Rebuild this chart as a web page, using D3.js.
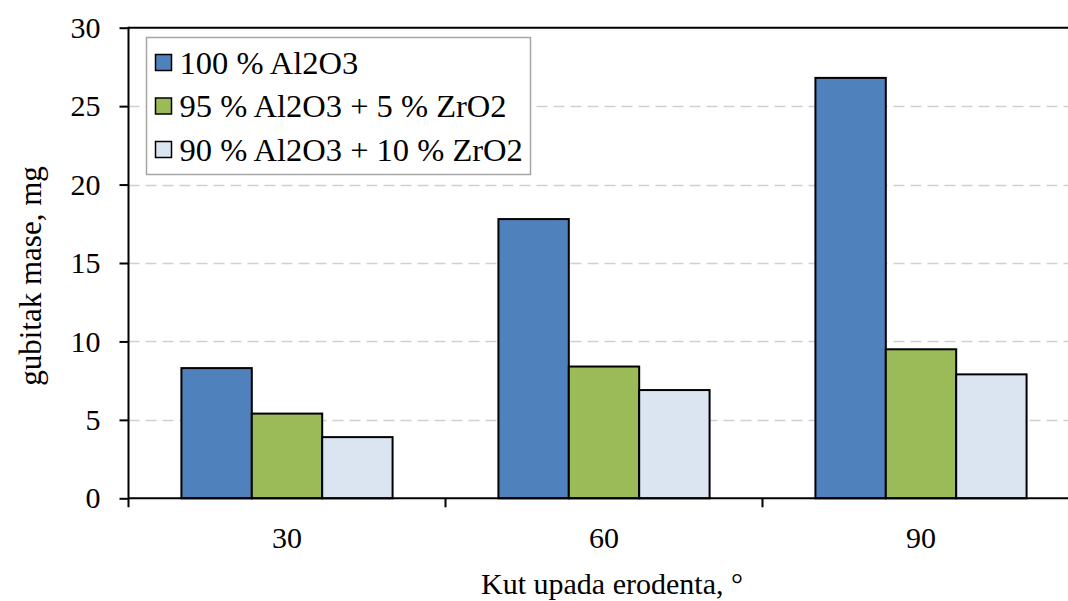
<!DOCTYPE html>
<html>
<head>
<meta charset="utf-8">
<script src="https://cdn.jsdelivr.net/npm/d3@7"></script>
<style>
    body { margin: 0; background: #fff; }
    svg { display: block; font-family: "Liberation Serif", "Times New Roman", serif; }
</style>
</head>
<body>
<svg></svg>
<script>
// Data.
var categories = ['30', '60', '90'];
var seriesNames = ['100 % Al2O3', '95 % Al2O3 + 5 % ZrO2', '90 % Al2O3 + 10 % ZrO2'];
var seriesColors = ['#4f81bd', '#9bbb59', '#dbe5f1'];
var values100 = [8.3, 17.8, 26.8];
var values95 = [5.4, 8.4, 9.5];
var values90 = [3.9, 6.9, 7.9];
var yTicks = [0, 5, 10, 15, 20, 25, 30];

var seriesValues = [values100, values95, values90];

var width = 1068;
var height = 601;

var svg = d3.select('svg')
    .attr('width', width)
    .attr('height', height)
;

// Plot area (the right edge runs past the picture, as in the reference).
var plotLeft = 128.5;
var plotRight = 1079.5;
var plotTop = 27.7;
var plotBottom = 498.3;

var xScale = d3.scaleBand()
    .domain(categories)
    .range([plotLeft, plotRight])
;

// Bars flush inside a group, the gap only between groups.
var xInner = d3.scaleBand()
    .domain(d3.range(seriesNames.length))
    .range([0, xScale.bandwidth()])
    .paddingInner(0)
    .paddingOuter(53 / 70.5)
;

var yScale = d3.scaleLinear()
    .domain([0, 30])
    .range([plotBottom, plotTop])
;

// Dashed gridlines.
svg.append('g')
    .selectAll('line')
    .data(yTicks.filter(function(d) { return d > 0 && d < 30; }))
    .enter()
    .append('line')
    .attr('x1', plotLeft)
    .attr('x2', width)
    .attr('y1', function(d) { return Math.round(yScale(d)) + 0.5; })
    .attr('y2', function(d) { return Math.round(yScale(d)) + 0.5; })
    .style('stroke', '#d0d0d0')
    .style('stroke-width', 1.5)
    .style('stroke-dasharray', '11,6')
;

// Top border line at 30.
svg.append('line')
    .attr('x1', plotLeft)
    .attr('x2', width)
    .attr('y1', yScale(30))
    .attr('y2', yScale(30))
    .style('stroke', '#000')
    .style('stroke-width', 2)
;

// Bars.
var groups = svg.selectAll('.series')
    .data(seriesValues)
    .enter()
    .append('g')
    .classed('series', true)
;

groups.selectAll('rect')
    .data(function(vals, i) {
        return vals.map(function(v, j) {
            return { series: i, category: categories[j], value: v };
        });
    })
    .enter()
    .append('rect')
    .attr('x', function(d) { return xScale(d.category) + xInner(d.series); })
    .attr('y', function(d) { return yScale(d.value); })
    .attr('width', xInner.bandwidth())
    .attr('height', function(d) { return yScale(0) - yScale(d.value); })
    .style('fill', function(d) { return seriesColors[d.series]; })
    .style('stroke', '#000')
    .style('stroke-width', 2)
;

// Y axis.
var yAxis = svg.append('g')
    .attr('transform', 'translate(' + plotLeft + ',0)')
    .call(d3.axisLeft(yScale).tickValues(yTicks).tickSize(9).tickPadding(19))
;
yAxis.select('.domain').remove();
yAxis.selectAll('.tick line').style('stroke', '#000').style('stroke-width', 2);
yAxis.selectAll('.tick text')
    .style('font-size', '30px')
    .style('font-family', '"Liberation Serif", serif')
    .style('fill', '#000')
;
yAxis.append('line')
    .attr('x1', 0).attr('x2', 0)
    .attr('y1', plotTop - 1).attr('y2', plotBottom + 9)
    .style('stroke', '#000')
    .style('stroke-width', 2)
;

// X axis: baseline, ticks on the category boundaries, centred labels.
svg.append('line')
    .attr('x1', plotLeft)
    .attr('x2', width)
    .attr('y1', plotBottom)
    .attr('y2', plotBottom)
    .style('stroke', '#000')
    .style('stroke-width', 2)
;

svg.append('g')
    .selectAll('line')
    .data(categories.slice(1))
    .enter()
    .append('line')
    .attr('x1', function(d) { return xScale(d); })
    .attr('x2', function(d) { return xScale(d); })
    .attr('y1', plotBottom)
    .attr('y2', plotBottom + 9)
    .style('stroke', '#000')
    .style('stroke-width', 2)
;

svg.append('g')
    .selectAll('text')
    .data(categories)
    .enter()
    .append('text')
    .attr('x', function(d) { return xScale(d) + xScale.bandwidth() / 2; })
    .attr('y', 548)
    .attr('text-anchor', 'middle')
    .style('font-size', '30px')
    .text(function(d) { return d; })
;

// Axis titles.
svg.append('text')
    .attr('x', 612)
    .attr('y', 594)
    .attr('text-anchor', 'middle')
    .style('font-size', '30px')
    .text('Kut upada erodenta, °')
;

svg.append('text')
    .attr('transform', 'translate(41,276) rotate(-90)')
    .attr('text-anchor', 'middle')
    .style('font-size', '31px')
    .text('gubitak mase, mg')
;

// Legend.
var legend = svg.append('g')
    .attr('transform', 'translate(146.5,37.5)')
;

legend.append('rect')
    .attr('width', 384)
    .attr('height', 137)
    .style('fill', '#fff')
    .style('stroke', '#a6a6a6')
    .style('stroke-width', 1.5)
;

var legendItems = legend.selectAll('.legend-item')
    .data(seriesNames)
    .enter()
    .append('g')
    .classed('legend-item', true)
    .attr('transform', function(d, i) { return 'translate(9,' + (25 + i * 43.5) + ')'; })
;

legendItems.append('rect')
    .attr('x', 0)
    .attr('y', -8)
    .attr('width', 16)
    .attr('height', 16)
    .style('fill', function(d, i) { return seriesColors[i]; })
    .style('stroke', '#000')
    .style('stroke-width', 1.5)
;

legendItems.append('text')
    .attr('x', 24)
    .attr('y', 11)
    .style('font-size', '32.5px')
    .text(function(d) { return d; })
;
</script>
</body>
</html>
